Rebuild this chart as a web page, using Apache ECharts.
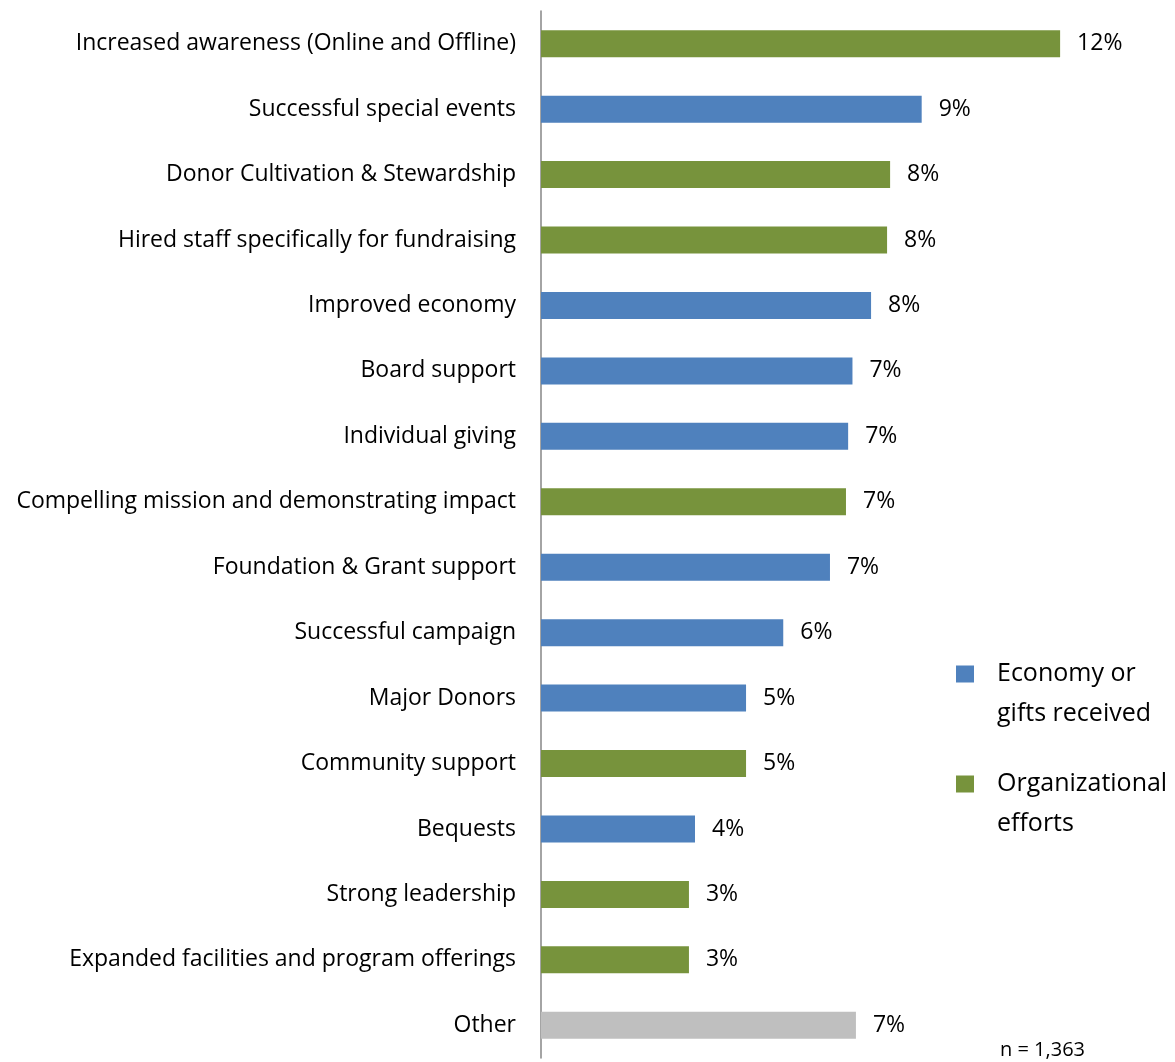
<!DOCTYPE html>
<html><head><meta charset="utf-8">
<script src="https://cdn.jsdelivr.net/npm/echarts@6/dist/echarts.min.js"></script>
<style>html,body{margin:0;padding:0;background:#fff;}#c{width:1175px;height:1062px;}</style>
</head><body><div id="c"></div>
<script>
const categories = [
  "Increased awareness (Online and Offline)",
  "Successful special events",
  "Donor Cultivation & Stewardship",
  "Hired staff specifically for fundraising",
  "Improved economy",
  "Board support",
  "Individual giving",
  "Compelling mission and demonstrating impact",
  "Foundation & Grant support",
  "Successful campaign",
  "Major Donors",
  "Community support",
  "Bequests",
  "Strong leadership",
  "Expanded facilities and program offerings",
  "Other"
];
const values = [12.0, 8.8, 8.07, 8.0, 7.63, 7.2, 7.1, 7.05, 6.68, 5.6, 4.74, 4.74, 3.56, 3.42, 3.42, 7.28];
const groups = ["org","econ","org","org","econ","econ","econ","org","econ","econ","econ","org","econ","org","org","other"];
const seriesNames = { econ: "Economy or\ngifts received", org: "Organizational\nefforts" };
const colors = { econ: "#4F81BD", org: "#77933C", other: "#BFBFBF" };
const sampleNote = "n = 1,363";

const FONT = "Open Sans";
function seriesFor(g, name) {
  return {
    name: name,
    type: "bar",
    stack: "all",
    barWidth: 27,
    itemStyle: { color: colors[g] },
    label: {
      show: true, position: "right", distance: 17,
      fontFamily: FONT, fontSize: 23, color: "#000", padding: [6, 0, 0, 0],
      formatter: p => Math.round(p.value) + "%"
    },
    data: values.map((v, i) => groups[i] === g ? v : "-")
  };
}
const chart = echarts.init(document.getElementById("c"));
chart.setOption({
  animation: false,
  textStyle: { fontFamily: FONT },
  grid: { left: 541, right: 50, top: 11, bottom: 4 },
  xAxis: { type: "value", min: 0, max: 13.5, show: false },
  yAxis: {
    type: "category", data: categories, inverse: true,
    axisLine: { show: true, lineStyle: { color: "#868686", width: 1.5 } },
    axisTick: { show: false },
    axisLabel: { fontFamily: FONT, fontSize: 23, color: "#000", margin: 25, padding: [4, 0, 0, 0] }
  },
  legend: {
    orient: "vertical", left: 956, top: 614, padding: 0,
    itemWidth: 18, itemHeight: 17, itemGap: -10,
    icon: "rect",
    formatter: name => " \n" + name,
    textStyle: { fontFamily: FONT, fontSize: 25, color: "#000", lineHeight: 40, padding: [0, 0, 0, 18] },
    data: [seriesNames.econ, seriesNames.org]
  },
  series: [
    seriesFor("econ", seriesNames.econ),
    seriesFor("org", seriesNames.org),
    seriesFor("other", "Other")
  ],
  graphic: [{
    type: "text", left: 1000, top: 1040,
    style: { text: sampleNote, fontFamily: FONT, fontSize: 20, fill: "#000" }
  }]
});
</script></body></html>
